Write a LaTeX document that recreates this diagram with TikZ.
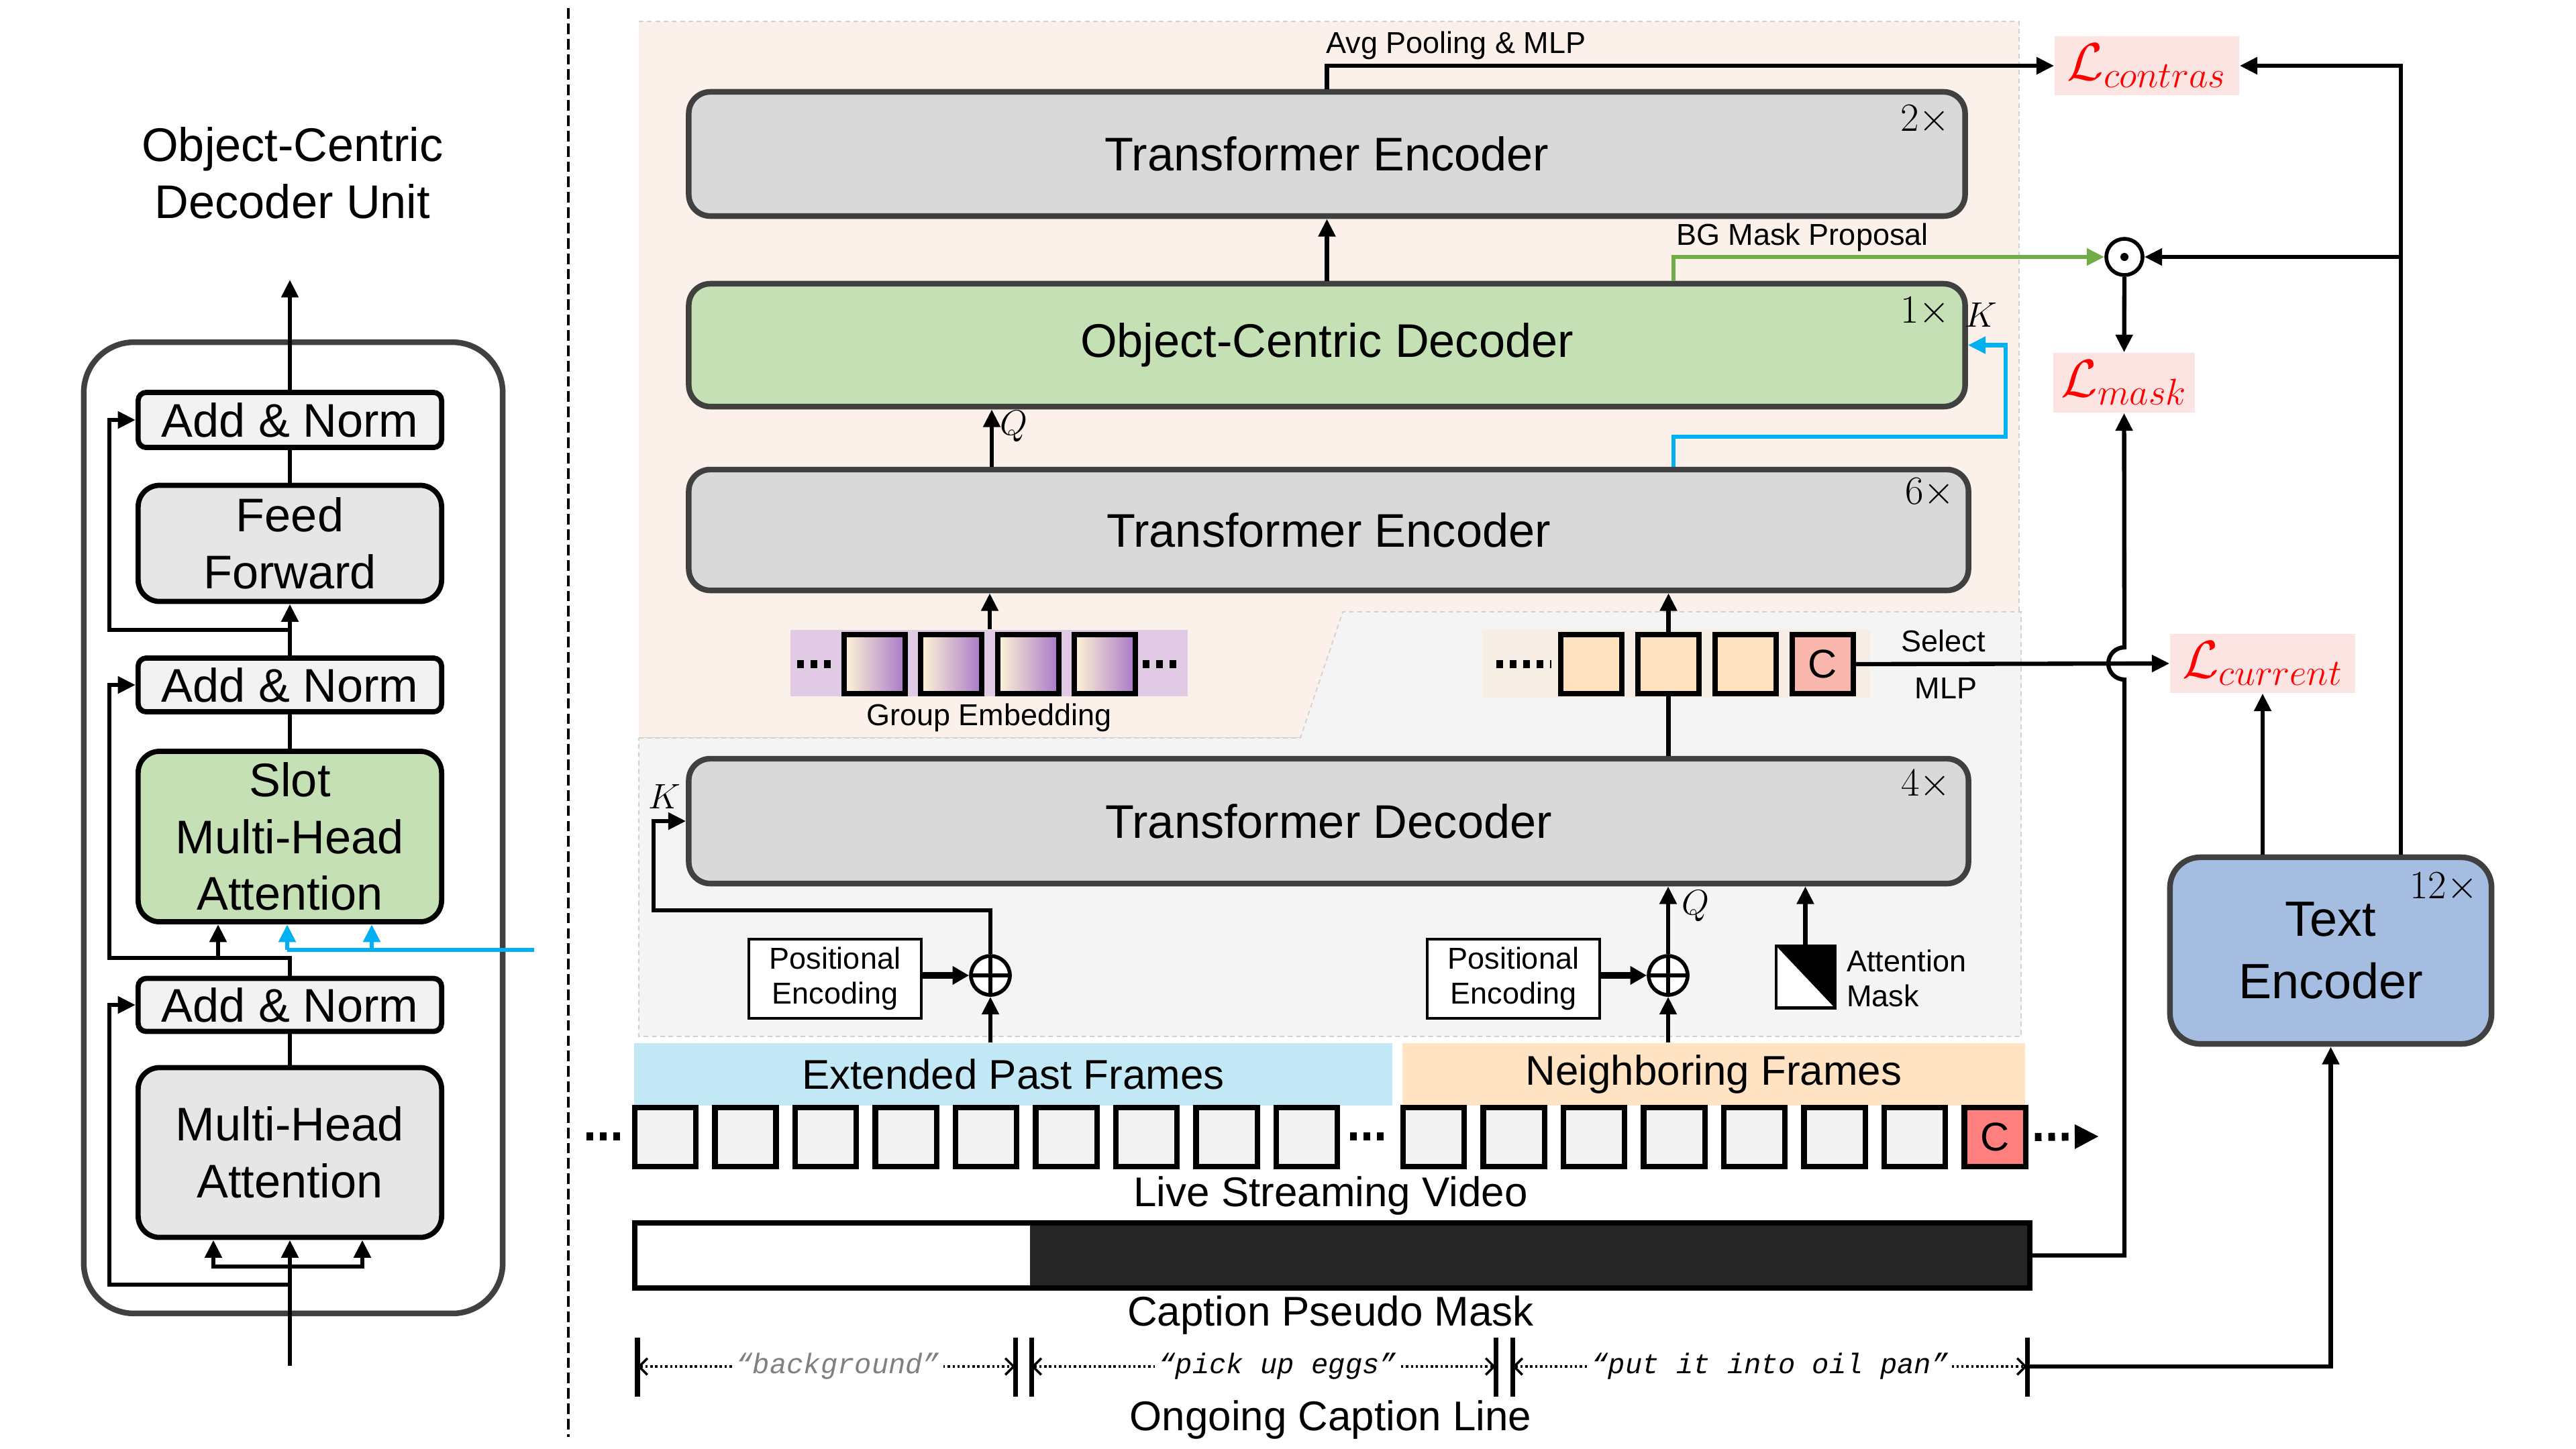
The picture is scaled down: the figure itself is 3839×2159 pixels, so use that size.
\RequirePackage{fix-cm}
\documentclass[tikz,border=0pt]{standalone}
\usepackage{fontspec}
\setmainfont{Liberation Sans}
\newfontfamily\capfont{Liberation Mono}
\usetikzlibrary{arrows.meta,calc}
\definecolor{dgray}{HTML}{404040}
\definecolor{tegray}{HTML}{D9D9D9}
\definecolor{boxgray}{HTML}{E6E6E6}
\definecolor{angray}{HTML}{F2F2F2}
\definecolor{ocgreen}{HTML}{C5E0B4}
\definecolor{pinkbg}{HTML}{FBF0EA}
\definecolor{graybg}{HTML}{F4F4F4}
\definecolor{lossbg}{HTML}{FCE4E2}
\definecolor{lossred}{HTML}{FF0000}
\definecolor{extblue}{HTML}{C2E7F5}
\definecolor{nbpeach}{HTML}{FFE3C3}
\definecolor{tokbg}{HTML}{F6EDE4}
\definecolor{tokfill}{HTML}{FFE2C0}
\definecolor{ctokc}{HTML}{F9B6AC}
\definecolor{cframe}{HTML}{FF7F7F}
\definecolor{framefill}{HTML}{F2F2F2}
\definecolor{purplebg}{HTML}{E0CAE4}
\definecolor{gradL}{HTML}{FFF6D6}
\definecolor{gradR}{HTML}{A878C8}
\definecolor{teblue}{HTML}{A4BDE1}
\definecolor{lblue}{HTML}{00B0F0}
\definecolor{lgreen}{HTML}{70AD47}
\definecolor{maskdark}{HTML}{262626}
\begin{document}
\begin{tikzpicture}[x=0.01cm,y=-0.01cm,
  fbig/.style={font=\fontsize{20}{24}\selectfont},
  fmid/.style={font=\fontsize{17.6}{21}\selectfont},
  fsmall/.style={font=\fontsize{12.8}{14.8}\selectfont},
  ln/.style={line width=1.8pt},
  arr/.style={line width=1.8pt,-{Triangle[length=7.5pt,width=7pt]}},
  barr/.style={line width=1.8pt,draw=lblue,-{Triangle[length=7.5pt,width=7pt]}},
  garr/.style={line width=1.8pt,draw=lgreen,-{Triangle[length=7.5pt,width=7pt]}},
  thickarr/.style={line width=2.6pt,-{Triangle[length=7pt,width=7.5pt]}},
  an/.style={draw=black,line width=2.2pt,fill=angray,rounded corners=0.12cm,minimum width=4.52cm,inner sep=0pt,fbig},
  lbox/.style={draw=black,line width=2.2pt,rounded corners=0.32cm,minimum width=4.52cm,inner sep=0pt,align=center,fbig},
  bigbox/.style={draw=dgray,line width=2.4pt,rounded corners=0.32cm,inner sep=0pt,fill=tegray,fbig},
  mult/.style={font=\fontsize{17}{20}\selectfont},
  mathlab/.style={font=\fontsize{15}{18}\selectfont},
  loss/.style={fill=lossbg,text=lossred,inner sep=0pt,font=\fontsize{22.5}{26}\selectfont},
  frame/.style={draw=black,line width=2.3pt,fill=framefill,minimum width=0.91cm,minimum height=0.88cm,inner sep=0pt,font=\fontsize{17}{20}\selectfont},
  tok/.style={draw=black,line width=2.3pt,fill=tokfill,minimum width=0.91cm,minimum height=0.88cm,inner sep=0pt,font=\fontsize{17}{20}\selectfont},
  gtok/.style={draw=black,line width=2.3pt,left color=gradL,right color=gradR,minimum width=0.91cm,minimum height=0.88cm,inner sep=0pt},
  dotsline/.style={line width=3.4pt,dash pattern=on 2.8pt off 2.9pt},
  capar/.style={line width=1pt,dash pattern=on 1pt off 1.1pt,{Straight Barb[length=3.5pt,width=7pt]}-{Straight Barb[length=3.5pt,width=7pt]}},
  tick/.style={line width=2pt},
  pe/.style={draw=black,line width=1.3pt,fill=white,minimum width=2.57cm,minimum height=1.18cm,inner sep=0pt,align=center,fsmall},
  oplus/.style={draw=black,circle,line width=1.6pt,minimum size=0.58cm,inner sep=0pt,fill=white,
    path picture={\draw[black,line width=1.6pt] (path picture bounding box.north) -- (path picture bounding box.south) (path picture bounding box.west) -- (path picture bounding box.east);}},
  odotst/.style={draw=black,circle,line width=1.6pt,minimum size=0.54cm,inner sep=0pt,fill=white,
    path picture={\fill[black] (path picture bounding box.center) circle (1.7pt);}}
]
\useasboundingbox (0,0) rectangle (3839,2159);

% ================= LEFT PANEL =================
\node[fbig,align=center] (title) at (436,258) {Object-Centric\\Decoder Unit};
\node[draw=dgray,line width=2.4pt,rounded corners=0.75cm,minimum width=6.24cm,minimum height=14.47cm] (outer) at (437,1234) {};

\node[an,minimum height=0.82cm] (an1) at (432,626) {Add \& Norm};
\node[lbox,fill=boxgray,minimum height=1.73cm] (ff) at (432,810) {Feed\\Forward};
\node[an,minimum height=0.80cm] (an2) at (432,1021) {Add \& Norm};
\node[lbox,fill=ocgreen,minimum height=2.54cm] (slot) at (432,1247) {Slot\\Multi-Head\\Attention};
\node[an,minimum height=0.79cm] (an3) at (432,1498) {Add \& Norm};
\node[lbox,fill=boxgray,minimum height=2.53cm] (mha) at (432,1718) {Multi-Head\\Attention};

\coordinate (inb) at (432,2036);
\coordinate (br1) at (432,1888);
\coordinate (br0) at (432,1915);
\coordinate (r1) at (163,1915);
\coordinate (xa) at (318,0);
\coordinate (xc) at (540,0);
\coordinate (j3) at (432,1428);
\coordinate (r2) at (163,1428);
\coordinate (qa) at (325,1428);
\coordinate (bl0) at (796,1416);
\coordinate (bl1) at (428,1416);
\coordinate (bl2) at (554,1416);
\coordinate (j1) at (432,939);
\coordinate (r3) at (163,939);
\coordinate (outtop) at (432,417);

\draw[arr] (inb) -- (mha.south);
\draw[arr] (br1) -| (mha.south -| xa);
\draw[arr] (br1) -| (mha.south -| xc);
\draw[arr] (br0) -- (r1) |- (an3.west);
\draw[ln] (mha.north) -- (an3.south);
\draw[arr] (an3.north) -- (j3) -- (r2) |- (an2.west);
\draw[arr] (qa) -- (slot.south -| qa);
\draw[ln,draw=lblue] (bl0) -- (bl1);
\draw[barr] (bl1) -- (slot.south -| bl1);
\draw[barr] (bl2) -- (slot.south -| bl2);
\draw[ln] (slot.north) -- (an2.south);
\draw[arr] (an2.north) -- (ff.south);
\draw[arr] (j1) -- (r3) |- (an1.west);
\draw[ln] (ff.north) -- (an1.south);
\draw[arr] (an1.north) -- (outtop);

% separator
\coordinate (sepA) at (847,12);
\coordinate (sepB) at (847,2142);
\draw[line width=1.4pt,dash pattern=on 4.5pt off 2pt] (sepA) -- (sepB);

% ================= RIGHT PANEL BACKGROUNDS =================
\fill[pinkbg] (952,32) -- (3009,32) -- (3009,912) -- (2001,912) -- (1938,1100) -- (952,1100) -- cycle;
\draw[black!18,line width=0.5pt,dash pattern=on 2pt off 1.5pt] (952,32) -- (3009,32) -- (3009,912) (1938,1100) -- (952,1100) -- cycle;
\fill[graybg] (952,1100) -- (1938,1100) -- (2001,912) -- (3012,912) -- (3012,1545) -- (952,1545) -- cycle;
\draw[black!18,line width=0.5pt,dash pattern=on 2pt off 1.5pt] (952,1100) -- (1938,1100) -- (2001,912) -- (3012,912) -- (3012,1545) -- (952,1545) -- cycle;

% ================= BIG BOXES =================
\node[bigbox,minimum width=19.01cm,minimum height=1.85cm] (te2) at (1977.5,229.5) {Transformer Encoder};
\node[mult] (m2) at (2869,179) {$2\times$};
\node[bigbox,fill=ocgreen,minimum width=19.01cm,minimum height=1.83cm] (ocd) at (1977.5,514.5) {Object-Centric Decoder};
\node[mult] (m1) at (2869,465) {$1\times$};
\node[bigbox,minimum width=19.06cm,minimum height=1.80cm] (te6) at (1980,790) {Transformer Encoder};
\node[mult] (m6) at (2876,735) {$6\times$};
\node[bigbox,minimum width=19.06cm,minimum height=1.86cm] (td) at (1980,1224) {Transformer Decoder};
\node[mult] (m4) at (2870,1170) {$4\times$};

% ================= GROUP EMBEDDING =================
\node[fill=purplebg,minimum width=5.92cm,minimum height=0.99cm,inner sep=0pt] (gbg) at (1474,988.5) {};
\foreach \i in {0,1,2,3} {\node[gtok] (g\i) at ({1303.5+\i*114.3},990) {};}
\coordinate (gdl0) at (1188,990);
\coordinate (gdl1) at (1248,990);
\coordinate (gdr0) at (1703,990);
\coordinate (gdr1) at (1763,990);
\draw[dotsline] (gdl0) -- (gdl1);
\draw[dotsline] (gdr0) -- (gdr1);
\node[fsmall] (gelab) at (1474,1070) {Group Embedding};

% ================= TOKEN ROW =================
\node[fill=tokbg,minimum width=5.78cm,minimum height=1.01cm,inner sep=0pt] (tbg) at (2498,989.5) {};
\node[tok] (tk1) at (2371.5,990) {};
\node[tok] (tk2) at (2486.5,990) {};
\node[tok] (tk3) at (2601.5,990) {};
\node[tok,fill=ctokc] (ctk) at (2716.5,990) {C};
\coordinate (td0) at (2230,990);
\coordinate (td1) at (2312,990);
\draw[dotsline] (td0) -- (td1);
\node[fsmall] (sel) at (2896,955) {Select};
\node[fsmall] (mlp) at (2900,1026) {MLP};

% ================= LOSSES =================
\node[loss,minimum width=2.75cm,minimum height=0.88cm] (Lcon) at (3199.5,98) {$\mathcal{L}_{contras}$};
\node[loss,minimum width=2.11cm,minimum height=0.89cm] (Lmask) at (3165.5,570.5) {$\mathcal{L}_{mask}$};
\node[loss,minimum width=2.76cm,minimum height=0.88cm] (Lcur) at (3372,989) {$\mathcal{L}_{current}$};
\node[odotst] (odot) at (3166,383) {};

% Text encoder
\node[bigbox,fill=teblue,minimum width=4.79cm,minimum height=2.78cm,rounded corners=0.45cm,align=center,font=\fontsize{21}{26.5}\selectfont] (tenc) at (3473.5,1417) {Text\\Encoder};
\node[mult] (m12) at (3642,1323) {$12\times$};

% ================= PE / OPLUS / MASK =================
\node[pe] (pel) at (1244.5,1459) {Positional\\Encoding};
\node[pe] (per) at (2255.5,1459) {Positional\\Encoding};
\node[oplus] (opl) at (1476,1454) {};
\node[oplus] (opr) at (2486,1454) {};
\node[draw=black,line width=1.4pt,fill=white,minimum width=0.87cm,minimum height=0.92cm,inner sep=0pt,
  path picture={\fill[black] (path picture bounding box.north west) -- (path picture bounding box.north east) -- (path picture bounding box.south east) -- cycle;}] (am) at (2690.5,1456) {};
\node[align=left,anchor=west,font=\fontsize{12.8}{14.8}\selectfont] (amt) at (2740,1458) {Attention\\Mask};

% ================= BANDS AND FRAMES =================
\node[fill=extblue,minimum width=11.30cm,minimum height=0.93cm,inner sep=0pt,fmid] (ext) at (1510,1601.5) {Extended Past Frames};
\node[fill=nbpeach,minimum width=9.28cm,minimum height=0.93cm,inner sep=0pt,fmid] (nb) at (2554,1601.5) {Neighboring Frames};
\foreach \i in {0,...,8} {\node[frame] (fL\i) at ({991.5+\i*119.5},1695) {};}
\foreach \i in {0,...,6} {\node[frame] (fR\i) at ({2136.5+\i*119.5},1695) {};}
\node[frame,fill=cframe] (fC) at (2973,1695) {C};
\coordinate (fd0) at (874,1694);
\coordinate (fd1) at (934,1694);
\coordinate (fm0) at (2012,1694);
\coordinate (fm1) at (2072,1694);
\coordinate (fr1) at (3128,1694);
\draw[dotsline] (fd0) -- (fd1);
\draw[dotsline] (fm0) -- (fm1);
\draw[dotsline,shorten <=0.1cm,-{Triangle[length=0.36cm,width=0.34cm]}] (fC.east) -- (fr1);
\node[fmid] (lsv) at (1983,1782) {Live Streaming Video};

% mask bar
\node[fill=white,minimum width=20.77cm,minimum height=0.95cm,inner sep=0pt] (mask) at (1985.5,1871.5) {};
\fill[maskdark] (1535,1824) rectangle (3024,1919);
\draw[line width=2.3pt] (mask.north west) rectangle (mask.south east);
\node[fmid] (cpm) at (1983,1960) {Caption Pseudo Mask};

% ongoing caption line
\coordinate (t1) at (950,2037);
\coordinate (t2) at (1513,2037);
\coordinate (t3) at (1537,2037);
\coordinate (t4) at (2229,2037);
\coordinate (t5) at (2254,2037);
\coordinate (t6) at (3021,2037);
\foreach \c in {t1,t2,t3,t4,t5,t6} {\draw[tick] ($(\c)+(0,-43)$) -- ($(\c)+(0,45)$);}
\draw[capar] (t1) -- (t2) node[pos=0.53,fill=white,inner sep=1.5pt,text=black!50,font=\capfont\itshape\fontsize{12}{14}\selectfont] {“background”};
\draw[capar] (t3) -- (t4) node[pos=0.53,fill=white,inner sep=1.5pt,font=\capfont\itshape\fontsize{12}{14}\selectfont] {“pick up eggs”};
\draw[capar] (t5) -- (t6) node[pos=0.5,fill=white,inner sep=1.5pt,font=\capfont\itshape\fontsize{12}{14}\selectfont] {“put it into oil pan”};
\node[fmid] (ocl) at (1983,2116) {Ongoing Caption Line};

% ================= CONNECTORS RIGHT =================
\coordinate (xq) at (1478,0);
\coordinate (xg) at (1475,0);
\coordinate (xb) at (2494,0);
\coordinate (avgc) at (1977.5,98);
\coordinate (gc) at (2494,383);
\coordinate (bc1) at (2494,651);
\coordinate (bc2) at (2989,651);
\coordinate (bc3) at (2989,514.5);
\coordinate (kc1) at (974,1357);
\coordinate (rv) at (3578,98);
\coordinate (hx) at (3166,1871.5);
\coordinate (hb) at (3166,1013);

% TE2 -> contras
\draw[arr] (te2.north) -- (avgc) -- (Lcon.west);
\node[fsmall] (avglab) at (2170,68) {Avg Pooling \& MLP};
% OCD -> TE2
\draw[arr] (ocd.north) -- (te2.south);
% green BG mask proposal
\draw[garr] (ocd.north -| xb) -- (gc) -- (odot.west);
\node[fsmall] (bglab) at (2686,354) {BG Mask Proposal};
% Q into OCD
\draw[arr] (te6.north -| xq) -- (ocd.south -| xq);
\node[mathlab] (qlab1) at (1511,636) {$Q$};
% blue K into OCD
\draw[barr] (te6.north -| xb) -- (bc1) -- (bc2) -- (bc3) -- (ocd.east);
\node[mathlab] (klab1) at (2952,469) {$K$};
% group embedding -> TE6
\draw[arr] (gbg.north -| xg) -- (te6.south -| xg);
% TD -> tokens -> TE6
\draw[ln] (td.north -| tk2) -- (tk2.south);
\draw[arr] (tk2.north) -- (te6.south -| tk2);
% K into TD
\draw[arr] (opl.north) |- (kc1) |- (td.west);
\node[mathlab] (klab2) at (990,1187) {$K$};
% PE -> oplus
\draw[thickarr] (opl -| pel.east) -- (opl.west);
\draw[thickarr] (opr -| per.east) -- (opr.west);
% frames -> oplus
\draw[arr] (ext.north -| opl) -- (opl.south);
\draw[arr] (nb.north -| opr) -- (opr.south);
% oplus right -> TD (Q)
\draw[arr] (opr.north) -- (td.south -| opr);
\node[mathlab] (qlab2) at (2527,1351) {$Q$};
% attention mask -> TD
\draw[arr] (am.north) -- (td.south -| am);

% C token -> L_current
\draw[arr] (ctk.east) -- (Lcur.west);
% mask bar -> L_mask with hop
\draw[arr] (mask.east) -- (hx) -- (hb) arc[start angle=-90,end angle=-270,radius=0.24cm] -- (Lmask.south);
% odot -> L_mask
\draw[arr] (odot.south) -- (Lmask.north);
% text encoder outputs
\draw[arr] (rv |- tenc.north) -- (rv) -- (Lcon.east);
\draw[arr] (rv |- odot) -- (odot.east);
\draw[arr] (tenc.north -| Lcur) -- (Lcur.south);
% caption line -> text encoder
\draw[arr] (t6) -| (tenc.south);
\end{tikzpicture}
\end{document}
